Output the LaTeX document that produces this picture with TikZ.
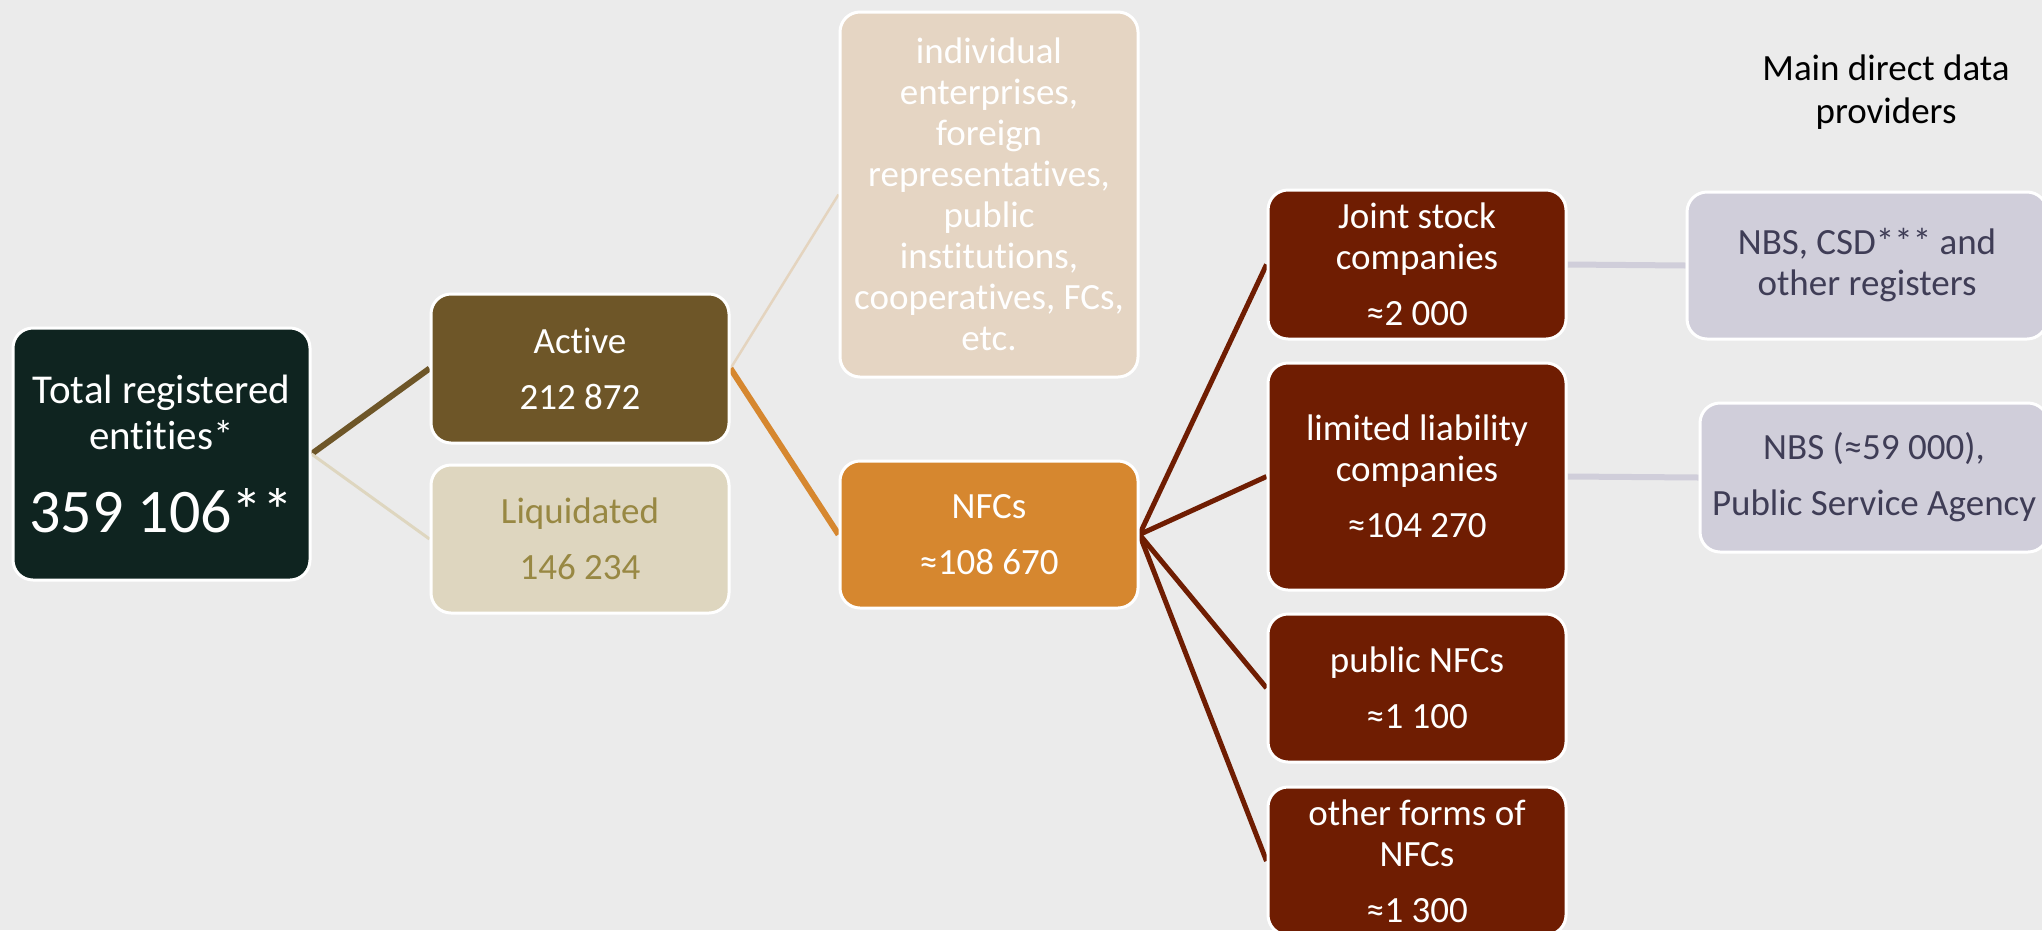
\documentclass[tikz,border=0pt]{standalone}
\usepackage{fontspec}
\setmainfont{Carlito}[RawFeature={-liga;-clig;-calt;-dlig}]
\usetikzlibrary{backgrounds}
\definecolor{bgc}{HTML}{EBEBEB}
\definecolor{totalc}{HTML}{0F2420}
\definecolor{activec}{HTML}{6E5628}
\definecolor{liqc}{HTML}{DED6BF}
\definecolor{liqtext}{HTML}{988843}
\definecolor{indc}{HTML}{E5D5C3}
\definecolor{indline}{HTML}{E4D4BF}
\definecolor{nfcc}{HTML}{D6872F}
\definecolor{redc}{HTML}{6F1D02}
\definecolor{nbsc}{HTML}{D0CEDA}
\definecolor{nbstext}{HTML}{3F3D56}
\begin{document}
\begin{tikzpicture}[x=1pt,y=-1pt,
  box/.style={draw=white, line width=3pt, rounded corners=20pt, inner sep=0pt,
    minimum width=298pt, align=center, font=\fontsize{37}{41}\selectfont, text=white},
  redbox/.style={box, fill=redc},
  nbsbox/.style={box, fill=nbsc, text=nbstext},
]
\useasboundingbox (0,0) rectangle (2042,930);
\clip (0,0) rectangle (2042,930);

\node[box, fill=totalc, minimum width=297pt, minimum height=252pt,
      font=\fontsize{41}{46}\selectfont] (total) at (161.5,454)
  {Total registered\\entities*\\[37pt]{\fontsize{62}{70}\selectfont 359 106**}};

\node[box, fill=activec, minimum height=149pt] (active) at (580,368.5)
  {Active\\[15pt]212 872};
\node[box, fill=liqc, text=liqtext, minimum height=148pt] (liq) at (580,539)
  {Liquidated\\[15pt]146 234};

\node[box, fill=indc, minimum height=365pt] (ind) at (989,194.5)
  {individual\\enterprises,\\foreign\\representatives,\\public\\institutions,\\cooperatives, FCs,\\etc.};
\node[box, fill=nfcc, minimum height=147pt] (nfc) at (989,534.5)
  {NFCs\\[15pt]≈108 670};

\node[redbox, minimum height=149pt] (joint) at (1417,264.5)
  {Joint stock\\companies\\[15pt]≈2 000};
\node[redbox, minimum height=227pt] (llc) at (1417,476.5)
  {limited liability\\companies\\[15pt]≈104 270};
\node[redbox, minimum height=148pt] (pub) at (1417,688)
  {public NFCs\\[15pt]≈1 100};
\node[redbox, minimum height=148pt] (oth) at (1417,861)
  {other forms of\\NFCs\\[15pt]≈1 300};

\node[nbsbox, minimum width=360pt, minimum height=147pt] (nbs1) at (1867,265.5)
  {NBS, CSD*** and\\other registers};
\node[nbsbox, minimum width=348pt, minimum height=149pt] (nbs2) at (1874,477.5)
  {NBS (≈59 000),\\[15pt]Public Service Agency};

\node[align=center, font=\fontsize{37}{43}\selectfont, text=black] (title) at (1886,92)
  {Main direct data\\providers};

\begin{pgfonlayer}{background}
\fill[bgc] (0,0) rectangle (2042,930);
\draw[line width=6pt, activec] (total.east) -- (active.west);
\draw[line width=3pt, liqc] (total.east) -- (liq.west);
\draw[line width=2.5pt, indline] (active.east) -- (ind.west);
\draw[line width=6pt, nfcc] (active.east) -- (nfc.west);
\draw[line width=5pt, redc] (nfc.east) -- (joint.west);
\draw[line width=5pt, redc] (nfc.east) -- (llc.west);
\draw[line width=5pt, redc] (nfc.east) -- (pub.west);
\draw[line width=5pt, redc] (nfc.east) -- (oth.west);
\draw[line width=6pt, nbsc] (joint.east) -- (nbs1.west);
\draw[line width=6pt, nbsc] (llc.east) -- (nbs2.west);
\end{pgfonlayer}
\end{tikzpicture}
\end{document}
